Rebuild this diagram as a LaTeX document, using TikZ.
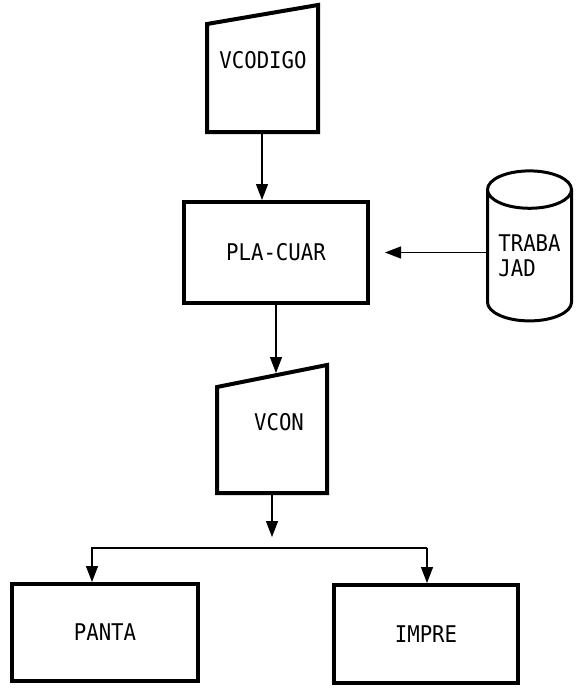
\documentclass[tikz,border=0pt]{standalone}
\usepackage{fontspec}
\newfontfamily\letra[FakeStretch=0.9]{DejaVu Sans Mono}
\usetikzlibrary{arrows.meta,shapes.geometric}

\tikzset{
  texto/.style={font=\letra\fontsize{23}{25}\selectfont, inner sep=0pt},
  caja/.style={texto, draw, line width=4pt},
  borde/.style={line width=4pt, line join=miter},
  linea/.style={line width=1.3pt},
  flecha/.style={linea, -{Triangle[width=12pt,length=16pt]}}
}

\begin{document}
\begin{tikzpicture}[x=1pt,y=-1pt]

\useasboundingbox (0,0) rectangle (578,696);

% BLOQUE VCODIGO
\draw[borde]
(207,132) -- (207,24) -- (318,5) -- (318,132) -- cycle;
\node[texto] (vcod) at (263,60) {VCODIGO};
\coordinate (vcod-s) at (262,132);

% BLOQUE PLA-CUAR
\node[caja, minimum width=184, minimum height=101] (pla) at (276,252.5) {PLA-CUAR};

% ARCHIVO TRABAJAD
\node[texto, shape=cylinder, shape border rotate=90, draw, line width=3pt,
      minimum height=150, minimum width=84, aspect=0.6, align=left]
  (trab) at (529.5,256) {TRABA\\JAD};

% BLOQUE VCON
\draw[borde]
(217,493) -- (217,387) -- (327,365) -- (327,493) -- cycle;
\node[texto] (vcon) at (279,422) {VCON};
\coordinate (vcon-n) at (276,373);
\coordinate (vcon-s) at (272,493);
\coordinate (rama) at (272,537);

% SALIDAS
\node[caja, minimum width=186, minimum height=97] (panta) at (105,632.5) {PANTA};
\node[caja, minimum width=184, minimum height=98] (impre) at (426,634) {IMPRE};
\coordinate (bus-i) at (92,548);
\coordinate (bus-d) at (427,548);

% FLECHAS
\draw[flecha] (vcod-s) -- (vcod-s |- pla.north);
\draw[flecha, shorten >=15pt] (pla.east -| trab.west) -- (pla.east);
\draw[flecha] (pla.south) -- (pla.south |- vcon-n);
\draw[flecha] (vcon-s) -- (rama);

% REPARTO
\draw[flecha]
(bus-d)
--
(bus-i)
--
(bus-i |- panta.north);
\draw[flecha] (bus-d) -- (bus-d |- impre.north);

\end{tikzpicture}
\end{document}
